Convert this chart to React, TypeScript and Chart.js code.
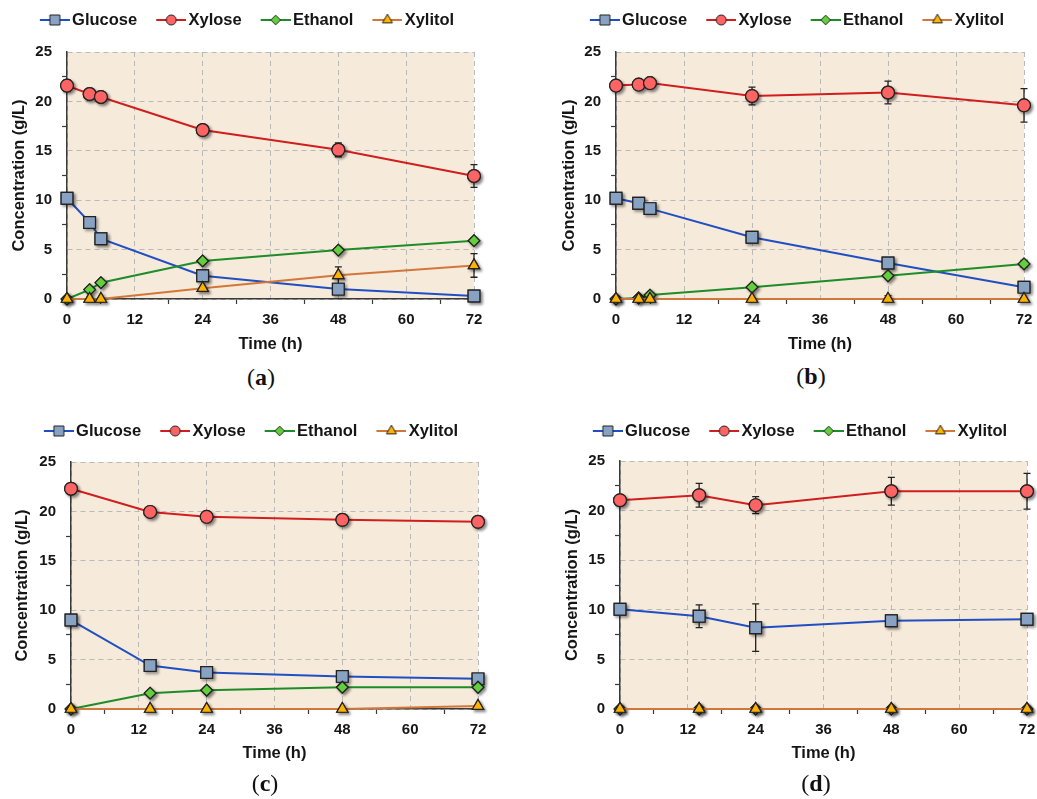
import React, { useEffect, useRef } from 'react';
import { Chart, registerables, PointElement } from 'chart.js';

Chart.register(...registerables);

// ---------------- data ----------------
const seriesNames = ['Glucose', 'Xylose', 'Ethanol', 'Xylitol'];
const xTickLabels = [0, 12, 24, 36, 48, 60, 72];
const yTickLabels = [0, 5, 10, 15, 20, 25];
const panelLetters = ['a', 'b', 'c', 'd'];

const timesAB = [0, 4, 6, 24, 48, 72];
const timesCD = [0, 14, 24, 48, 72];

// panel (a)
const glucoseA = [10.2, 7.75, 6.1, 2.35, 1.0, 0.3];
const xyloseA = [21.6, 20.75, 20.45, 17.1, 15.1, 12.45];
const ethanolA = [0, 0.95, 1.65, 3.85, 4.95, 5.9];
const xylitolA = [0, 0, 0, 1.1, 2.4, 3.4];
const glucoseErrA = [0, 0, 0, 0, 0, 0];
const xyloseErrA = [0.6, 0, 0, 0, 0.7, 1.15];
const ethanolErrA = [0, 0, 0, 0, 0, 0];
const xylitolErrA = [0, 0, 0, 0, 0.85, 1.2];

// panel (b)
const glucoseB = [10.2, 9.7, 9.15, 6.25, 3.65, 1.2];
const xyloseB = [21.6, 21.7, 21.85, 20.55, 20.9, 19.6];
const ethanolB = [0, 0.1, 0.4, 1.2, 2.35, 3.55];
const xylitolB = [0, 0, 0, 0, 0, 0];
const glucoseErrB = [0, 0, 0, 0, 0, 0];
const xyloseErrB = [0, 0, 0, 0.9, 1.15, 1.7];
const ethanolErrB = [0, 0, 0, 0, 0, 0.35];
const xylitolErrB = [0, 0, 0, 0, 0.35, 0];

// panel (c)
const glucoseC = [9.0, 4.4, 3.7, 3.3, 3.05];
const xyloseC = [22.3, 19.95, 19.45, 19.15, 18.95];
const ethanolC = [0, 1.6, 1.9, 2.2, 2.2];
const xylitolC = [0, 0, 0, 0, 0.3];
const glucoseErrC = [0, 0, 0, 0, 0];
const xyloseErrC = [0, 0, 0, 0, 0];
const ethanolErrC = [0, 0, 0, 0, 0];
const xylitolErrC = [0, 0, 0, 0, 0];

// panel (d)
const glucoseD = [10.05, 9.35, 8.2, 8.9, 9.05];
const xyloseD = [21.05, 21.55, 20.55, 21.95, 21.95];
const ethanolD = [0, 0, 0, 0, 0];
const xylitolD = [0, 0, 0, 0, 0];
const glucoseErrD = [0, 1.15, 2.4, 0, 0.35];
const xyloseErrD = [0, 1.2, 0.85, 1.4, 1.8];
const ethanolErrD = [0, 0, 0, 0, 0];
const xylitolErrD = [0, 0, 0, 0, 0];

const panels = [
  { times: timesAB, values: [glucoseA, xyloseA, ethanolA, xylitolA], errors: [glucoseErrA, xyloseErrA, ethanolErrA, xylitolErrA] },
  { times: timesAB, values: [glucoseB, xyloseB, ethanolB, xylitolB], errors: [glucoseErrB, xyloseErrB, ethanolErrB, xylitolErrB] },
  { times: timesCD, values: [glucoseC, xyloseC, ethanolC, xylitolC], errors: [glucoseErrC, xyloseErrC, ethanolErrC, xylitolErrC] },
  { times: timesCD, values: [glucoseD, xyloseD, ethanolD, xylitolD], errors: [glucoseErrD, xyloseErrD, ethanolErrD, xylitolErrD] },
];

// ---------------- styles / layout ----------------
const FONT = '"Liberation Sans", Arial, sans-serif';
const TEXT = '#151515';
const lineColors = ['#1f4fc2', '#d01e1e', '#1e8c28', '#d2773a'];
const fillColors = ['#87a2c2', '#ff6464', '#62cf3c', '#ffb300'];
const shapes = ['rect', 'circle', 'rectRot', 'triangle'];
const radii = [8.3, 6.4, 5.8, 6.5];
const PLOT_BG = '#f6eadb';
const GRID = '#b9b9b9';
const AXIS = '#3a3a3a';

const LEGEND_SIZE = 16.5;
const TITLE_SIZE = 16.5;
const TICK_SIZE = 15;

const layouts = [
  { left: 0, top: 0, width: 518, height: 360, padL: 11, padR: 44, padT: 1.75, extra: 13.75, yW: 56, xH: 61, yTitlePad: -1.9, capX: 261, capY: 377 },
  { left: 517, top: 0, width: 520, height: 360, padL: 44, padR: 13, padT: 1.75, extra: 13.75, yW: 55, xH: 61, yTitlePad: -1.9, capX: 811, capY: 376 },
  { left: 0, top: 411, width: 518, height: 358, padL: 15, padR: 40, padT: 1.75, extra: 12.75, yW: 56, xH: 60, yTitlePad: -2.9, capX: 265, capY: 783 },
  { left: 517, top: 411, width: 520, height: 358, padL: 47, padR: 10, padT: 1.75, extra: 11.75, yW: 56, xH: 60, yTitlePad: -1.9, capX: 816, capY: 783 },
];

// drop shadow for markers (shadow pass, then clean pass)
const baseDrawPoint = (PointElement.prototype as any).draw;
if (!(PointElement.prototype as any).__shadowPatched) {
  (PointElement.prototype as any).__shadowPatched = true;
  (PointElement.prototype as any).draw = function (ctx: CanvasRenderingContext2D, area: any) {
    ctx.save();
    ctx.shadowColor = 'rgba(0,0,0,0.45)';
    ctx.shadowBlur = 3;
    ctx.shadowOffsetX = 2;
    ctx.shadowOffsetY = 2;
    baseDrawPoint.call(this, ctx, area);
    ctx.restore();
    baseDrawPoint.call(this, ctx, area);
  };
}

const plotBgPlugin = {
  id: 'plotBg',
  beforeDraw(chart: any) {
    const { ctx, chartArea: a } = chart;
    ctx.save();
    ctx.fillStyle = PLOT_BG;
    ctx.fillRect(a.left, a.top, a.right - a.left, a.bottom - a.top);
    ctx.restore();
  },
};

const errorBarsPlugin = {
  id: 'errorBars',
  beforeDatasetsDraw(chart: any) {
    const { ctx } = chart;
    const yScale = chart.scales.y;
    chart.data.datasets.forEach((ds: any, i: number) => {
      const errs = ds.errors;
      if (!errs) return;
      const meta = chart.getDatasetMeta(i);
      meta.data.forEach((pt: any, j: number) => {
        const e = errs[j];
        if (!e) return;
        const v = ds.data[j].y;
        const yTop = yScale.getPixelForValue(v + e);
        const yBot = yScale.getPixelForValue(v - e);
        ctx.save();
        ctx.strokeStyle = '#222';
        ctx.lineWidth = 1.3;
        ctx.beginPath();
        ctx.moveTo(pt.x, yTop);
        ctx.lineTo(pt.x, yBot);
        ctx.moveTo(pt.x - 3.5, yTop);
        ctx.lineTo(pt.x + 3.5, yTop);
        ctx.moveTo(pt.x - 3.5, yBot);
        ctx.lineTo(pt.x + 3.5, yBot);
        ctx.stroke();
        ctx.restore();
      });
    });
  },
};

const legendMarginPlugin = {
  id: 'legendMargin',
  beforeInit(chart: any, _args: any, opts: any) {
    const legend = chart.legend;
    if (!legend) return;
    const fit = legend.fit;
    legend.fit = function () {
      fit.call(this);
      this.height += opts.extra || 0;
    };
  },
};

function makeLegendIcon(i: number): HTMLCanvasElement {
  const c = document.createElement('canvas');
  c.width = 45;
  c.height = 18;
  const g = c.getContext('2d')!;
  g.strokeStyle = lineColors[i];
  g.lineWidth = 2;
  g.beginPath();
  g.moveTo(15, 9);
  g.lineTo(45, 9);
  g.stroke();
  g.fillStyle = fillColors[i];
  g.strokeStyle = '#222';
  g.lineWidth = 1;
  const cx = 30;
  const cy = 9;
  g.beginPath();
  const s = shapes[i];
  if (s === 'rect') {
    g.rect(cx - 5, cy - 5, 10, 10);
  } else if (s === 'circle') {
    g.arc(cx, cy, 5, 0, Math.PI * 2);
  } else if (s === 'rectRot') {
    const r = 4.8;
    g.moveTo(cx - r, cy);
    g.lineTo(cx, cy - r);
    g.lineTo(cx + r, cy);
    g.lineTo(cx, cy + r);
    g.closePath();
  } else {
    const r = 5.8;
    g.moveTo(cx, cy - r);
    g.lineTo(cx + r * Math.sin((2 * Math.PI) / 3), cy + r * 0.5);
    g.lineTo(cx - r * Math.sin((2 * Math.PI) / 3), cy + r * 0.5);
    g.closePath();
  }
  g.fill();
  g.stroke();
  return c;
}

function Panel({ index }: { index: number }) {
  const ref = useRef<HTMLCanvasElement>(null);
  const L = layouts[index];
  useEffect(() => {
    const cfg = panels[index];
    const icons = seriesNames.map((_, i) => makeLegendIcon(i));
    const datasets = seriesNames.map((name, i) => ({
      label: name,
      data: cfg.times.map((t, j) => ({ x: t, y: cfg.values[i][j] })),
      errors: cfg.errors[i],
      borderColor: lineColors[i],
      borderWidth: 2,
      backgroundColor: fillColors[i],
      pointStyle: shapes[i],
      pointRadius: radii[i],
      pointHoverRadius: radii[i],
      pointBackgroundColor: fillColors[i],
      pointBorderColor: '#222',
      pointBorderWidth: 1.2,
      tension: 0,
      fill: false,
      clip: false,
      order: 3 - i,
    }));
    const tickFont = { family: FONT, size: TICK_SIZE, weight: 'bold' as const };
    const titleFont = { family: FONT, size: TITLE_SIZE, weight: 'bold' as const };
    const chart = new Chart(ref.current!, {
      type: 'line',
      data: { datasets: datasets as any },
      options: {
        responsive: false,
        animation: false,
        events: [],
        layout: { padding: { left: L.padL, right: L.padR, top: L.padT, bottom: 0 } },
        plugins: {
          legend: {
            position: 'top',
            labels: {
              usePointStyle: true,
              pointStyleWidth: 33,
              padding: 10,
              color: TEXT,
              font: { family: FONT, size: LEGEND_SIZE, weight: 'bold' },
              generateLabels: (ch: any) =>
                ch.data.datasets.map((ds: any, i: number) => ({
                  text: ds.label,
                  pointStyle: icons[i],
                  fillStyle: 'rgba(0,0,0,0)',
                  strokeStyle: 'rgba(0,0,0,0)',
                  lineWidth: 0,
                  hidden: false,
                  datasetIndex: i,
                  fontColor: TEXT,
                })),
            },
          },
          tooltip: { enabled: false },
          legendMargin: { extra: L.extra },
        } as any,
        scales: {
          x: {
            type: 'linear',
            min: 0,
            max: 72,
            afterFit: (s: any) => {
              s.height = L.xH;
              s.paddingLeft = 0;
              s.paddingRight = 0;
            },
            ticks: {
              stepSize: 6,
              autoSkip: false,
              maxRotation: 0,
              padding: 7,
              color: TEXT,
              font: tickFont,
              callback: (v: any) => (xTickLabels.includes(Number(v)) ? String(v) : ''),
            },
            grid: {
              color: (c: any) => (xTickLabels.includes(c.tick?.value) ? GRID : 'rgba(0,0,0,0)'),
              tickColor: (c: any) => (xTickLabels.includes(c.tick?.value) ? 'rgba(0,0,0,0)' : AXIS),
              tickLength: 5,
              tickWidth: 1.2,
              lineWidth: 1,
            },
            border: { color: AXIS, width: 1.5, dash: [5, 4] },
            title: {
              display: true,
              text: 'Time (h)',
              color: TEXT,
              font: titleFont,
              padding: { top: 0, bottom: 6.1 },
            },
          },
          y: {
            type: 'linear',
            min: 0,
            max: 25,
            afterFit: (s: any) => {
              s.width = L.yW;
              s.paddingTop = 0;
              s.paddingBottom = 0;
            },
            ticks: {
              stepSize: 2.5,
              autoSkip: false,
              padding: 10,
              color: TEXT,
              font: tickFont,
              callback: (v: any) => (yTickLabels.includes(Number(v)) ? String(v) : ''),
            },
            grid: {
              color: (c: any) => (yTickLabels.includes(c.tick?.value) ? GRID : 'rgba(0,0,0,0)'),
              tickColor: (c: any) => (yTickLabels.includes(c.tick?.value) ? 'rgba(0,0,0,0)' : AXIS),
              tickLength: 5,
              tickWidth: 1.2,
              lineWidth: 1,
            },
            border: { color: AXIS, width: 1.5, dash: [5, 4] },
            title: {
              display: true,
              text: 'Concentration (g/L)',
              color: TEXT,
              font: titleFont,
              padding: { top: L.yTitlePad, bottom: 0 },
            },
          },
        },
      } as any,
      plugins: [plotBgPlugin, errorBarsPlugin, legendMarginPlugin] as any,
    });
    return () => chart.destroy();
  }, [index]);

  return (
    <>
      <div style={{ position: 'absolute', left: L.left, top: L.top, width: L.width, height: L.height }}>
        <canvas ref={ref} width={L.width} height={L.height} />
      </div>
      <div
        style={{
          position: 'absolute',
          left: L.capX - 40,
          top: L.capY - 15,
          width: 80,
          height: 30,
          lineHeight: '30px',
          textAlign: 'center',
          fontFamily: '"Liberation Serif", "Times New Roman", serif',
          fontSize: 24,
          color: '#111',
        }}
      >
        (<b>{panelLetters[index]}</b>)
      </div>
    </>
  );
}

export default function App() {
  return (
    <div style={{ position: 'absolute', left: 0, top: 0, width: 1037, height: 799, background: '#ffffff', overflow: 'hidden' }}>
      {panels.map((_, i) => (
        <Panel key={i} index={i} />
      ))}
    </div>
  );
}
